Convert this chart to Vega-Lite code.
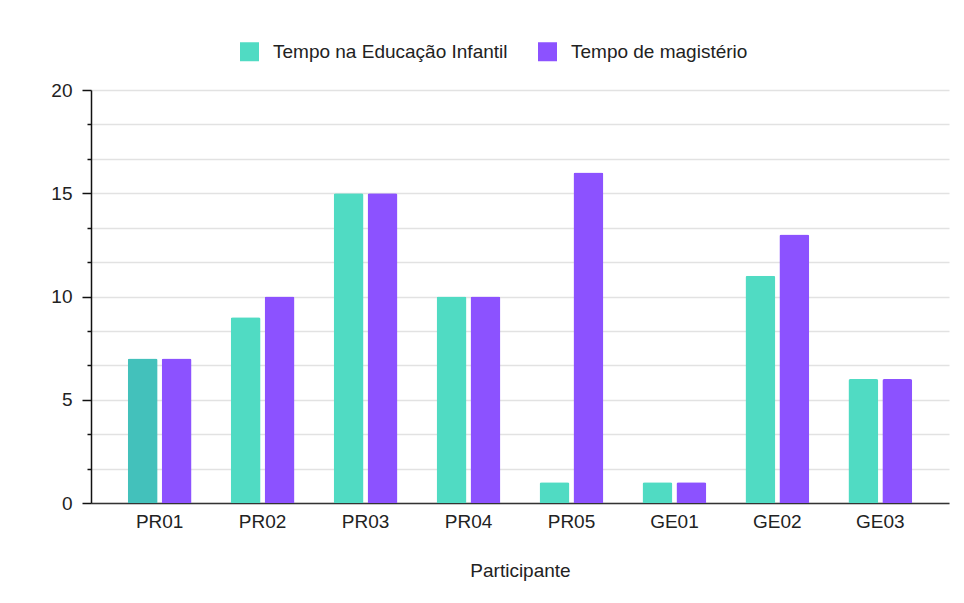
{
  "$schema": "https://vega.github.io/schema/vega-lite/v6.json",
  "width": 858,
  "height": 413,
  "autosize": {"type": "none"},
  "padding": {"left": 91, "top": 90, "right": 15, "bottom": 100},
  "background": "white",
  "config": {
    "font": "Liberation Sans",
    "view": {"stroke": null},
    "axis": {"labelColor": "#222", "titleColor": "#222", "labelFontSize": 19, "titleFontSize": 19, "titleFontWeight": "normal"}
  },
  "data": {
    "values": [
      {"Participante": "PR01", "serie": "Tempo na Educação Infantil", "valor": 7},
      {"Participante": "PR01", "serie": "Tempo de magistério", "valor": 7},
      {"Participante": "PR02", "serie": "Tempo na Educação Infantil", "valor": 9},
      {"Participante": "PR02", "serie": "Tempo de magistério", "valor": 10},
      {"Participante": "PR03", "serie": "Tempo na Educação Infantil", "valor": 15},
      {"Participante": "PR03", "serie": "Tempo de magistério", "valor": 15},
      {"Participante": "PR04", "serie": "Tempo na Educação Infantil", "valor": 10},
      {"Participante": "PR04", "serie": "Tempo de magistério", "valor": 10},
      {"Participante": "PR05", "serie": "Tempo na Educação Infantil", "valor": 1},
      {"Participante": "PR05", "serie": "Tempo de magistério", "valor": 16},
      {"Participante": "GE01", "serie": "Tempo na Educação Infantil", "valor": 1},
      {"Participante": "GE01", "serie": "Tempo de magistério", "valor": 1},
      {"Participante": "GE02", "serie": "Tempo na Educação Infantil", "valor": 11},
      {"Participante": "GE02", "serie": "Tempo de magistério", "valor": 13},
      {"Participante": "GE03", "serie": "Tempo na Educação Infantil", "valor": 6},
      {"Participante": "GE03", "serie": "Tempo de magistério", "valor": 6}
    ]
  },
  "mark": {"type": "bar", "cornerRadiusTopLeft": 2, "cornerRadiusTopRight": 2},
  "encoding": {
    "x": {
      "field": "Participante",
      "type": "nominal",
      "sort": null,
      "scale": {"paddingInner": 0.38, "paddingOuter": 0.357},
      "axis": {
        "labelAngle": 0,
        "ticks": false,
        "domainColor": "#333",
        "domainWidth": 1.5,
        "labelPadding": 9,
        "titlePadding": 30,
        "grid": false
      }
    },
    "xOffset": {
      "field": "serie",
      "type": "nominal",
      "sort": ["Tempo na Educação Infantil", "Tempo de magistério"],
      "scale": {"paddingInner": 0.118}
    },
    "y": {
      "field": "valor",
      "type": "quantitative",
      "scale": {"domain": [0, 20], "nice": false},
      "title": null,
      "axis": {
        "values": [0, 1.6667, 3.3333, 5, 6.6667, 8.3333, 10, 11.6667, 13.3333, 15, 16.6667, 18.3333, 20],
        "labelExpr": "datum.value % 5 === 0 ? datum.label : ''",
        "tickSize": {"condition": {"test": "datum.value % 5 === 0", "value": 9}, "value": 4},
        "tickColor": "#111",
        "tickWidth": 1.5,
        "domainColor": "#111",
        "domainWidth": 1.5,
        "labelPadding": 10,
        "gridColor": "#e2e2e2",
        "gridWidth": 1.5
      }
    },
    "fill": {
      "condition": {"test": "datum.Participante === 'PR01' && datum.serie === 'Tempo na Educação Infantil'", "value": "#43c1bb"},
      "field": "serie",
      "type": "nominal",
      "scale": {"domain": ["Tempo na Educação Infantil", "Tempo de magistério"], "range": ["#50dbc3", "#8c52ff"]},
      "legend": {
        "title": null,
        "orient": "none",
        "legendX": 149,
        "legendY": -48,
        "direction": "horizontal",
        "symbolType": "square",
        "symbolSize": 361,
        "symbolStrokeWidth": 0,
        "labelFontSize": 19,
        "labelColor": "#222",
        "labelOffset": 14,
        "columnPadding": 30,
        "labelLimit": 400
      }
    }
  }
}
